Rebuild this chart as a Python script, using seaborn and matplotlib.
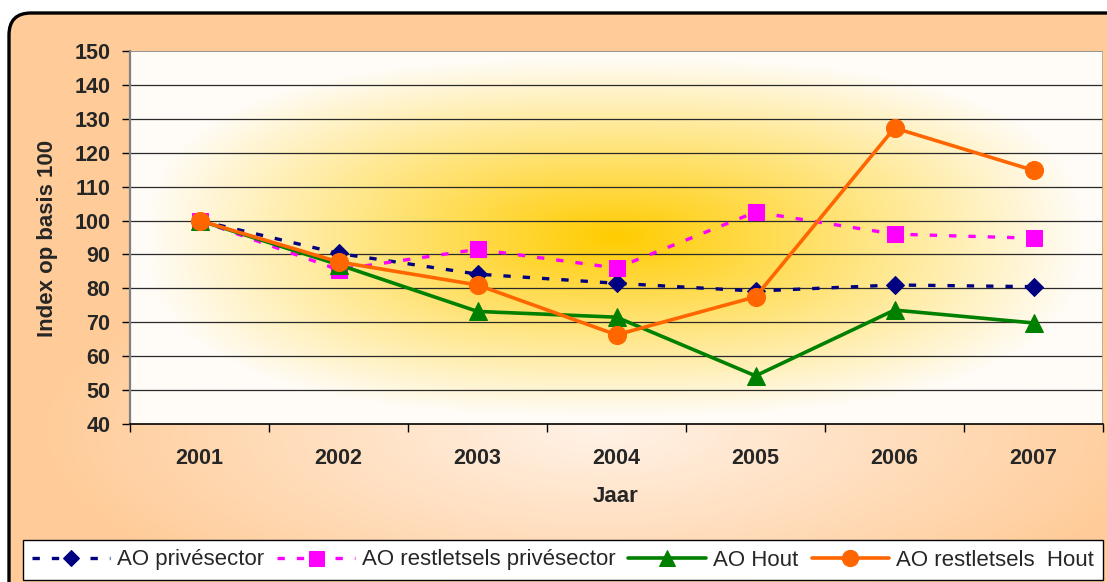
import numpy as np
import pandas as pd
import matplotlib
matplotlib.use("Agg")
import matplotlib.pyplot as plt
import seaborn as sns
from matplotlib.patches import FancyBboxPatch
from matplotlib.colors import to_rgb

# ---- data ----
years = ["2001", "2002", "2003", "2004", "2005", "2006", "2007"]
ao_prive = [100, 90.3, 84.2, 81.5, 79.2, 81.0, 80.5]
ao_rest_prive = [100, 85.5, 91.5, 86.0, 102.5, 96.0, 94.8]
ao_hout = [100, 87.0, 73.2, 71.5, 54.2, 73.6, 69.8]
ao_rest_hout = [100, 87.8, 81.0, 66.3, 77.5, 127.3, 114.8]
labels = ["AO privésector", "AO restletsels privésector", "AO Hout", "AO restletsels  Hout"]

sns.set_theme(style="white")
plt.rcParams['font.family'] = ['Liberation Sans', 'DejaVu Sans']

W, H = 1107, 582
fig = plt.figure(figsize=(W / 100, H / 100), dpi=100)
fig.patch.set_facecolor("white")

# ---- outer background with rounded border ----
bg = fig.add_axes([0, 0, 1, 1])
bg.set_xlim(0, W)
bg.set_ylim(H, 0)
bg.axis("off")
yy, xx = np.mgrid[0:H, 0:W]
t = np.sqrt(((xx - 600) / 560) ** 2 + ((yy - 430) / 200) ** 2)
t = np.clip(t, 0, 1)
c_in = np.array(to_rgb("#FFF2E6"))
c_out = np.array(to_rgb("#FFCC99"))
img = c_in[None, None, :] * (1 - t[..., None]) + c_out[None, None, :] * t[..., None]
im = bg.imshow(img, extent=(0, W, H, 0), aspect="auto", zorder=0)
box = FancyBboxPatch((9, 13), W + 40, H + 40, boxstyle="round,pad=0,rounding_size=22",
                     facecolor="none", edgecolor="black", linewidth=2.4, zorder=2)
bg.add_patch(box)
im.set_clip_path(box)

# ---- main axes ----
ax = fig.add_axes([130 / W, 1 - 424 / H, (1103 - 130) / W, (424 - 51) / H])

gy, gx = np.mgrid[0:240, 0:600]
px = gx / 599 * 973 + 130
py = gy / 239 * 373 + 51
p = 2.6
tt = (np.abs((px - 615) / 470) ** p + np.abs((py - 237) / 180) ** p) ** (1 / p)
tt = np.clip(tt, 0, 1)
c1 = np.array(to_rgb("#FFCC00"))
c2 = np.array(to_rgb("#FFFCF7"))
pimg = c1[None, None, :] * (1 - tt[..., None]) + c2[None, None, :] * tt[..., None]
ax.imshow(pimg, extent=(-0.5, 6.5, 40, 150), aspect="auto", zorder=0)

for yv in range(50, 150, 10):
    ax.axhline(yv, color="#2a2a2a", lw=0.9, zorder=1)
ax.axhline(150, color="#808080", lw=1.2, zorder=1)

idx = np.arange(len(years))
dash = (0, (2.2, 3.6))
sns.lineplot(x=idx, y=ao_prive, ax=ax, color="#000080", lw=2.4, linestyle=dash,
             marker="D", markersize=9, markeredgecolor="#000080", label=labels[0], legend=False, zorder=3)
sns.lineplot(x=idx, y=ao_rest_prive, ax=ax, color="#FF00FF", lw=2.4, linestyle=dash,
             marker="s", markersize=12, markeredgecolor="#FF00FF", label=labels[1], legend=False, zorder=3)
sns.lineplot(x=idx, y=ao_hout, ax=ax, color="#008000", lw=2.6,
             marker="^", markersize=13, markeredgecolor="#008000", label=labels[2], legend=False, zorder=3)
sns.lineplot(x=idx, y=ao_rest_hout, ax=ax, color="#FF6600", lw=2.6,
             marker="o", markersize=13, markeredgecolor="#FF6600", label=labels[3], legend=False, zorder=3)

ax.set_xlim(-0.5, 6.5)
ax.set_ylim(40, 150)
ax.set_yticks(np.arange(40, 151, 10))
ax.set_xticks(idx)
ax.set_xticklabels(years, fontsize=15.5, fontweight="bold")
ax.set_xticks(np.arange(-0.5, 7, 1), minor=True)
ax.tick_params(axis="x", which="major", length=0, pad=17)
ax.tick_params(axis="x", which="minor", length=6, width=1, color="black", direction="out", bottom=True)
ax.tick_params(axis="y", length=6, width=1, color="black", direction="out", left=True, pad=8)
for lab in ax.get_yticklabels():
    lab.set_fontsize(15.5)
    lab.set_fontweight("bold")
ax.set_xlabel("")
ax.set_ylabel("")
for s in ["top", "right"]:
    ax.spines[s].set_visible(False)
ax.spines["left"].set_color("#808080")
ax.spines["left"].set_linewidth(1.6)
ax.spines["bottom"].set_color("black")
ax.spines["bottom"].set_linewidth(1.2)
ax.axvline(6.5, color="#B0A090", lw=1.2)

fig.text(48 / W, 1 - 238 / H, "Index op basis 100", rotation=90, ha="center", va="center",
         fontsize=16, fontweight="bold")
fig.text(616 / W, 1 - 497 / H, "Jaar", ha="center", va="center", fontsize=16, fontweight="bold")

handles = [h for h in ax.get_lines() if h.get_label() in labels]
leg = fig.legend(handles=handles, labels=labels, loc="center", ncol=4,
                 bbox_to_anchor=(563 / W, 1 - 560 / H), frameon=True, fontsize=16,
                 handlelength=3.5, handletextpad=0.3, columnspacing=0.6, borderpad=0.42,
                 borderaxespad=0, fancybox=False, markerscale=0.9)
leg.get_frame().set_edgecolor("black")
leg.get_frame().set_linewidth(1.0)
leg.get_frame().set_facecolor("white")
leg.get_frame().set_alpha(1)

fig.savefig("out.png", dpi=100)
